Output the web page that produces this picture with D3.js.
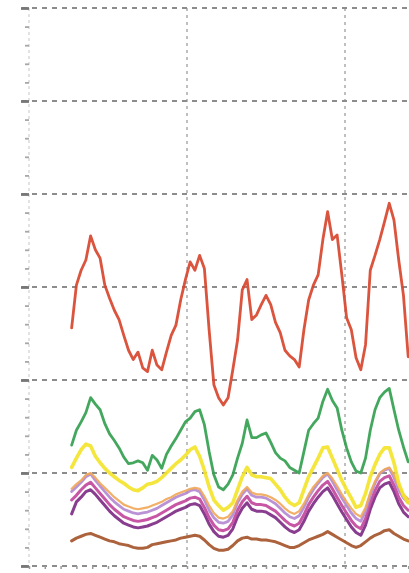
<!DOCTYPE html>
<html><head><meta charset="utf-8">
<script src="https://cdn.jsdelivr.net/npm/d3@7"></script>
<style>html,body{margin:0;padding:0;background:#fff;}svg{display:block;}</style>
</head><body>
<svg id="chart" width="409" height="573"></svg>
<script>
// x positions (time units) of samples
const xStart = 27, xStep = 3;
const yTicks = [0, 10, 20, 30, 40, 50, 60];
const xTicks = [0, 100, 200, 300];

const red = [25.6,30.2,31.8,32.9,35.5,34.0,33.1,30.2,28.8,27.5,26.5,24.8,23.2,22.2,23.0,21.3,20.9,23.2,21.6,21.1,23.0,24.8,25.9,28.6,30.8,32.7,31.8,33.4,32.0,25.4,19.5,18.1,17.3,18.1,21.1,24.3,29.7,30.8,26.5,27.0,28.1,29.1,28.1,26.2,25.1,23.2,22.6,22.2,21.4,25.4,28.6,30.2,31.3,35.1,38.1,35.1,35.6,31.3,26.7,25.4,22.4,21.1,23.8,31.8,33.4,35.1,37.0,39.0,37.2,32.9,29.1,22.5];
const green = [13.0,14.6,15.5,16.5,18.1,17.4,16.8,15.3,14.2,13.5,12.7,11.7,11.0,11.1,11.3,11.1,10.3,11.9,11.4,10.5,12.0,12.9,13.7,14.6,15.5,15.9,16.6,16.8,15.2,12.3,9.8,8.5,8.2,8.8,9.8,11.6,13.2,15.7,13.8,13.8,14.1,14.3,13.3,12.2,11.6,11.3,10.6,10.3,10.0,12.3,14.6,15.3,15.9,17.7,19.0,17.8,17.0,14.6,12.7,11.2,10.2,10.0,11.6,14.6,16.8,18.1,18.7,19.1,16.8,14.6,12.8,11.2];
const yellow = [10.6,11.6,12.5,13.1,12.9,11.8,11.1,10.5,10.0,9.6,9.2,8.9,8.5,8.2,8.1,8.4,8.8,8.9,9.1,9.5,10.0,10.5,11.0,11.4,11.9,12.5,12.8,11.8,10.3,8.5,7.1,6.5,6.0,6.3,6.8,8.2,9.6,10.6,9.8,9.6,9.6,9.5,9.4,8.8,8.2,7.4,6.8,6.5,6.8,8.2,9.6,10.6,11.6,12.7,12.8,11.6,10.4,9.2,8.2,7.3,6.3,6.5,7.8,9.6,10.9,12.0,12.7,12.7,11.1,8.9,7.6,6.8];
const orange = [8.3,8.8,9.2,9.8,10.0,9.5,8.9,8.4,7.9,7.4,7.0,6.6,6.4,6.2,6.1,6.2,6.3,6.5,6.7,6.9,7.2,7.4,7.7,7.9,8.1,8.3,8.4,8.3,7.5,6.5,5.7,5.2,5.1,5.3,5.9,7.1,8.0,8.5,7.9,7.7,7.7,7.6,7.4,7.1,6.7,6.2,5.8,5.6,5.9,6.7,7.7,8.5,9.1,9.7,10.0,9.4,8.6,7.7,6.9,6.2,5.6,5.3,6.3,7.9,9.1,10.0,10.4,10.6,9.8,8.6,7.7,7.2];
const violet = [8.0,8.5,9.0,9.6,9.9,9.2,8.6,8.0,7.4,6.9,6.5,6.1,5.9,5.7,5.6,5.7,5.8,6.0,6.2,6.5,6.8,7.1,7.4,7.6,7.8,8.1,8.2,8.0,7.1,6.0,5.2,4.7,4.6,4.8,5.5,6.8,7.7,8.3,7.6,7.4,7.4,7.3,7.0,6.7,6.2,5.7,5.3,5.1,5.4,6.3,7.4,8.2,8.9,9.5,9.9,9.1,8.2,7.3,6.5,5.7,5.1,4.8,5.9,7.6,8.9,9.9,10.3,10.5,9.5,8.2,7.3,6.8];
const magenta = [7.1,7.6,8.2,8.7,9.0,8.4,7.8,7.2,6.6,6.1,5.7,5.3,5.1,4.9,4.8,4.9,5.0,5.2,5.4,5.7,6.0,6.3,6.6,6.8,7.0,7.3,7.4,7.2,6.3,5.2,4.4,3.9,3.8,4.0,4.7,6.0,6.9,7.5,6.8,6.6,6.6,6.5,6.2,5.9,5.4,4.9,4.5,4.3,4.6,5.5,6.6,7.4,8.1,8.7,9.1,8.3,7.4,6.5,5.7,4.9,4.3,4.0,5.1,6.8,8.1,9.1,9.5,9.7,8.7,7.4,6.5,6.0];
const purple = [5.6,6.9,7.4,8.0,8.2,7.7,7.1,6.5,5.9,5.4,5.0,4.6,4.4,4.2,4.1,4.2,4.3,4.5,4.7,5.0,5.3,5.6,5.9,6.1,6.3,6.6,6.7,6.5,5.6,4.5,3.7,3.2,3.1,3.3,4.0,5.3,6.2,6.8,6.1,5.9,5.9,5.8,5.5,5.2,4.7,4.2,3.8,3.6,3.9,4.8,5.9,6.7,7.4,8.0,8.4,7.6,6.7,5.8,5.0,4.2,3.6,3.3,4.4,6.1,7.4,8.4,8.8,9.0,8.0,6.7,5.8,5.3];
const brown = [2.7,3.0,3.2,3.4,3.5,3.3,3.1,2.9,2.7,2.6,2.4,2.3,2.2,2.0,1.9,1.9,2.0,2.3,2.4,2.5,2.6,2.7,2.8,3.0,3.1,3.2,3.3,3.2,2.8,2.3,1.9,1.7,1.7,1.8,2.2,2.7,3.0,3.1,2.9,2.9,2.8,2.8,2.7,2.6,2.4,2.2,2.0,2.0,2.2,2.5,2.8,3.0,3.2,3.4,3.7,3.4,3.1,2.8,2.5,2.2,2.0,2.2,2.6,3.0,3.3,3.5,3.8,3.9,3.5,3.2,2.9,2.7];

const series = [
  {name: "brown", values: brown, color: "#a4552a", w: 3.0},
  {name: "purple", values: purple, color: "#7e2a86", w: 3.0},
  {name: "magenta", values: magenta, color: "#c2489c", w: 3.0},
  {name: "violet", values: violet, color: "#b48ad2", w: 2.8},
  {name: "orange", values: orange, color: "#f0a85a", w: 2.2},
  {name: "yellow", values: yellow, color: "#f3e42a", w: 3.6},
  {name: "green", values: green, color: "#34a050", w: 2.8},
  {name: "red", values: red, color: "#d8442c", w: 2.8}
];

const svg = d3.select("#chart");
const defs = svg.append("defs");
defs.append("filter").attr("id", "soft")
  .append("feGaussianBlur").attr("stdDeviation", 0.55);

const x = d3.scaleLinear().domain([0, 300]).range([29, 503]);
const y = d3.scaleLinear().domain([0, 60]).range([566, 8]);

const gAll = svg.append("g").attr("filter", "url(#soft)");

// vertical grid (dotted)
gAll.append("g").selectAll("line").data(xTicks.slice(1)).join("line")
  .attr("x1", d => x(d)).attr("x2", d => x(d))
  .attr("y1", y(60)).attr("y2", y(0))
  .attr("stroke", "#b0b0b0").attr("stroke-width", 1.6)
  .attr("stroke-dasharray", "3,4");

// left axis line
gAll.append("line").attr("x1", x(0)).attr("x2", x(0)).attr("y1", y(60)).attr("y2", y(0))
  .attr("stroke", "#d0d0d0").attr("stroke-width", 1.2).attr("stroke-dasharray", "3,3");

// horizontal grid (dashed)
gAll.append("g").selectAll("line").data(yTicks).join("line")
  .attr("x1", 22).attr("x2", 409)
  .attr("y1", d => y(d)).attr("y2", d => y(d))
  .attr("stroke", "#8c8c8c").attr("stroke-width", 2)
  .attr("stroke-dasharray", "5,5");

// y axis ticks via d3 axis
const minor = d3.range(0, 61, 2).filter(v => v % 10 !== 0);
const yAxisMinor = d3.axisLeft(y).tickValues(minor).tickSize(4).tickFormat("");
const gMinor = gAll.append("g").attr("transform", `translate(${x(0)},0)`).call(yAxisMinor);
gMinor.select(".domain").remove();
gMinor.selectAll("line").attr("stroke", "#a8a8a8").attr("stroke-width", 1.8);
const yAxisMajor = d3.axisLeft(y).tickValues(yTicks).tickSize(8).tickFormat("");
const gMajor = gAll.append("g").attr("transform", `translate(${x(0)},0)`).call(yAxisMajor);
gMajor.select(".domain").remove();
gMajor.selectAll("line").attr("stroke", "#777").attr("stroke-width", 2.8);

// bottom axis minor ticks
const xMinor = d3.range(0, 241, 10);
const xAxis = d3.axisBottom(x).tickValues(xMinor).tickSize(3).tickFormat("");
const gx = gAll.append("g").attr("transform", `translate(0,${y(0)})`).call(xAxis);
gx.select(".domain").remove();
gx.selectAll("line").attr("stroke", "#999").attr("stroke-width", 1.5);

// lines
const line = d3.line()
  .x((d, i) => x(xStart + i * xStep))
  .y(d => y(d));

gAll.append("g").selectAll("path").data(series).join("path")
  .attr("d", s => line(s.values))
  .attr("fill", "none")
  .attr("stroke", s => s.color)
  .attr("stroke-width", s => s.w)
  .attr("stroke-linejoin", "round")
  .attr("stroke-linecap", "round")
  .attr("opacity", 0.92);
</script>
</body></html>
